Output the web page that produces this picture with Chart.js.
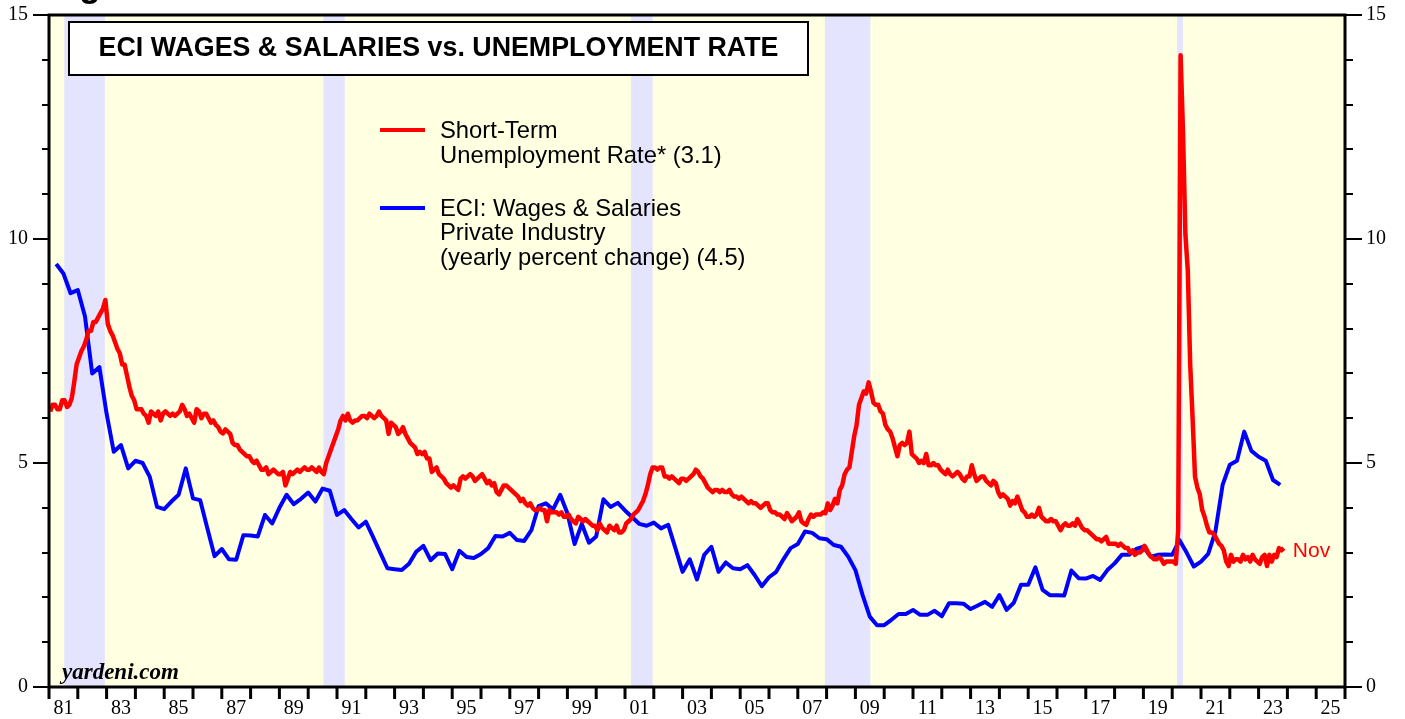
<!DOCTYPE html>
<html>
<head>
<meta charset="utf-8">
<script src="https://cdn.jsdelivr.net/npm/chart.js@4.4.0/dist/chart.umd.min.js"></script>
<style>
  html, body { margin: 0; padding: 0; background: #fff; }
  canvas { display: block; }
</style>
</head>
<body>
<canvas id="grafico" width="1405" height="719"></canvas>
<script>
// short-term unemployment rate, monthly, Jan 1981 .. Nov 2023
const firstYear = 1981;
const shortTermRate = [
  6.15, 6.3, 6.3, 6.2, 6.2, 6.4, 6.4, 6.25, 6.3, 6.45, 6.8, 7.2,      // 1981
  7.35, 7.5, 7.6, 7.75, 7.95, 7.95, 8.15, 8.15, 8.25, 8.35, 8.45, 8.64, // 1982
  8.1, 7.95, 7.85, 7.7, 7.55, 7.45, 7.2, 7.2, 6.95, 6.7, 6.5, 6.4,     // 1983
  6.2, 6.2, 6.2, 6.1, 6.05, 5.9, 6.15, 6.1, 6.05, 6.15, 5.95, 6.1,     // 1984
  6.15, 6.1, 6.05, 6.1, 6.05, 6.1, 6.15, 6.3, 6.2, 6.05, 6.1, 6.0,     // 1985
  5.9, 6.2, 6.15, 6.0, 6.1, 6.1, 6.0, 5.9, 5.95, 5.85, 5.8, 5.7,       // 1986
  5.66, 5.75, 5.7, 5.65, 5.45, 5.4, 5.4, 5.3, 5.25, 5.2, 5.15, 5.15,   // 1987
  5.05, 5.0, 5.05, 4.95, 4.85, 4.85, 4.9, 4.75, 4.8, 4.85, 4.8, 4.75,  // 1988
  4.75, 4.8, 4.5, 4.65, 4.8, 4.75, 4.8, 4.85, 4.8, 4.85, 4.9, 4.85,    // 1989
  4.85, 4.9, 4.85, 4.8, 4.9, 4.8, 4.75, 5.0, 5.15, 5.3, 5.45, 5.6,     // 1990
  5.75, 5.95, 6.05, 5.95, 6.1, 5.95, 5.9, 5.95, 5.95, 6.0, 6.05, 6.05, // 1991
  6.0, 6.1, 6.05, 6.0, 6.05, 6.15, 6.05, 6.0, 5.95, 5.65, 5.9, 5.85,   // 1992
  5.8, 5.65, 5.7, 5.8, 5.65, 5.55, 5.45, 5.4, 5.35, 5.2, 5.25, 5.2,    // 1993
  5.25, 5.1, 5.1, 4.8, 4.85, 4.9, 4.75, 4.7, 4.65, 4.55, 4.5, 4.45,    // 1994
  4.5, 4.45, 4.4, 4.65, 4.7, 4.65, 4.7, 4.75, 4.7, 4.6, 4.65, 4.7,     // 1995
  4.75, 4.65, 4.55, 4.6, 4.5, 4.55, 4.35, 4.3, 4.4, 4.5, 4.5, 4.45,    // 1996
  4.4, 4.35, 4.3, 4.25, 4.15, 4.2, 4.1, 4.05, 4.1, 4.0, 3.95, 3.95,    // 1997
  4.0, 3.95, 3.95, 3.7, 3.95, 3.9, 3.9, 3.9, 3.85, 3.9, 3.8, 3.8,      // 1998
  3.85, 3.75, 3.7, 3.65, 3.8, 3.75, 3.7, 3.75, 3.7, 3.65, 3.6, 3.6,    // 1999
  3.5, 3.65, 3.55, 3.5, 3.45, 3.6, 3.55, 3.5, 3.6, 3.45, 3.45, 3.5,    // 2000
  3.65, 3.7, 3.75, 3.85, 3.9, 3.95, 4.05, 4.15, 4.3, 4.5, 4.75, 4.9,   // 2001
  4.9, 4.85, 4.9, 4.9, 4.7, 4.7, 4.65, 4.7, 4.65, 4.6, 4.55, 4.65,     // 2002
  4.65, 4.6, 4.65, 4.7, 4.75, 4.85, 4.8, 4.7, 4.65, 4.55, 4.45, 4.4,   // 2003
  4.35, 4.4, 4.4, 4.35, 4.4, 4.35, 4.35, 4.4, 4.3, 4.25, 4.25, 4.2,    // 2004
  4.25, 4.2, 4.15, 4.1, 4.15, 4.1, 4.1, 4.05, 4.0, 4.05, 4.1, 4.1,     // 2005
  3.95, 3.9, 3.9, 3.85, 3.85, 3.8, 3.75, 3.88, 3.8, 3.7, 3.75, 3.8,    // 2006
  3.9, 3.7, 3.65, 3.62, 3.75, 3.85, 3.8, 3.85, 3.85, 3.85, 3.9, 3.88,  // 2007
  4.1, 3.95, 4.05, 4.2, 4.1, 4.4, 4.5, 4.75, 4.85, 4.9, 5.25, 5.6,     // 2008
  5.85, 6.3, 6.45, 6.6, 6.55, 6.8, 6.6, 6.35, 6.3, 6.3, 6.15, 6.1,     // 2009
  5.85, 5.75, 5.7, 5.55, 5.35, 5.15, 5.4, 5.45, 5.4, 5.45, 5.7, 5.2,   // 2010
  5.15, 5.1, 5.0, 5.05, 5.0, 5.2, 4.95, 4.95, 5.0, 4.95, 4.95, 4.85,   // 2011
  4.8, 4.75, 4.85, 4.75, 4.7, 4.75, 4.8, 4.75, 4.65, 4.6, 4.7, 4.7,    // 2012
  4.95, 4.75, 4.6, 4.65, 4.7, 4.7, 4.6, 4.55, 4.5, 4.6, 4.55, 4.35,    // 2013
  4.25, 4.3, 4.25, 4.2, 4.05, 4.15, 4.1, 4.25, 4.1, 3.95, 3.9, 3.8,    // 2014
  3.8, 3.85, 3.8, 3.85, 4.0, 3.8, 3.75, 3.7, 3.7, 3.75, 3.7, 3.7,      // 2015
  3.6, 3.5, 3.6, 3.65, 3.6, 3.6, 3.65, 3.6, 3.75, 3.65, 3.55, 3.5,     // 2016
  3.5, 3.45, 3.4, 3.35, 3.3, 3.3, 3.25, 3.3, 3.35, 3.2, 3.2, 3.2,      // 2017
  3.2, 3.15, 3.2, 3.15, 3.1, 3.1, 3.0, 3.05, 2.95, 3.0, 3.0, 3.05,     // 2018
  3.15, 3.05, 2.95, 2.9, 2.85, 2.85, 2.9, 2.85, 2.75, 2.8, 2.8, 2.8,   // 2019
  2.8, 2.75, 3.5, 14.1, 12.4, 10.1, 9.3, 7.2, 6.0, 4.7, 4.45, 4.3,     // 2020
  3.95, 3.8, 3.6, 3.45, 3.45, 3.4, 3.3, 3.2, 3.15, 3.05, 2.8, 2.7,     // 2021
  2.95, 2.8, 2.85, 2.85, 2.8, 2.95, 2.85, 2.9, 2.8, 2.95, 2.85, 2.8,   // 2022
  2.75, 2.9, 2.95, 2.7, 2.95, 2.8, 2.95, 2.9, 3.1, 3.05, 3.1           // 2023
];

// ECI wages & salaries, private industry, yoy %, quarterly, 1981Q1 .. 2023Q3
const eciWages = [
  9.44, 9.23, 8.79, 8.86,  // 1981
  8.27, 7.0, 7.14, 6.1,    // 1982
  5.25, 5.4, 4.88, 5.05,   // 1983
  5.0, 4.69, 4.02, 3.97,   // 1984
  4.14, 4.29, 4.88, 4.21,  // 1985
  4.17, 3.54, 2.92, 3.08,  // 1986
  2.85, 2.84, 3.39, 3.38,  // 1987
  3.36, 3.84, 3.65, 4.0,   // 1988
  4.29, 4.08, 4.2, 4.34,   // 1989
  4.14, 4.43, 4.38, 3.84,  // 1990
  3.95, 3.75, 3.56, 3.69,  // 1991
  3.35, 3.0, 2.65, 2.63,   // 1992
  2.61, 2.75, 3.02, 3.15,  // 1993
  2.83, 2.98, 2.97, 2.63,  // 1994
  3.04, 2.9, 2.88, 2.97,   // 1995
  3.1, 3.37, 3.36, 3.44,   // 1996
  3.28, 3.26, 3.5, 4.04,   // 1997
  4.1, 3.96, 4.29, 3.88,   // 1998
  3.19, 3.64, 3.22, 3.36,  // 1999
  4.19, 4.02, 4.11, 3.94,  // 2000
  3.79, 3.64, 3.6, 3.67,   // 2001
  3.54, 3.62, 3.1, 2.57,   // 2002
  2.85, 2.4, 2.95, 3.13,   // 2003
  2.57, 2.78, 2.65, 2.63,  // 2004
  2.72, 2.5, 2.25, 2.45,   // 2005
  2.57, 2.85, 3.1, 3.19,   // 2006
  3.47, 3.44, 3.32, 3.3,   // 2007
  3.17, 3.13, 2.91, 2.61,  // 2008
  2.05, 1.57, 1.38, 1.38,  // 2009
  1.5, 1.63, 1.63, 1.72,   // 2010
  1.61, 1.61, 1.7, 1.58,   // 2011
  1.87, 1.87, 1.86, 1.74,  // 2012
  1.82, 1.9, 1.79, 2.05,   // 2013
  1.72, 1.88, 2.28, 2.28,  // 2014
  2.67, 2.17, 2.05, 2.05,  // 2015
  2.04, 2.6, 2.43, 2.42,   // 2016
  2.48, 2.39, 2.61, 2.76,  // 2017
  2.95, 2.95, 3.08, 3.13,  // 2018
  2.91, 2.95, 2.96, 2.95,  // 2019
  3.28, 3.0, 2.69, 2.8,    // 2020
  2.97, 3.47, 4.51, 4.96,  // 2021
  5.05, 5.7, 5.27, 5.14,   // 2022
  5.05, 4.62, 4.51         // 2023
];

// recessions (decimal years)
const recessionStart = [1981.53, 1990.53, 2001.21, 2007.94, 2020.17];
const recessionEnd   = [1982.94, 1991.27, 2001.96, 2009.52, 2020.37];

const yAxisTicks = [0, 5, 10, 15];
const lastMonthLabel = 'Nov';

const serif = '"Liberation Serif", "Times New Roman", serif';
const sans = '"Liberation Sans", Arial, sans-serif';

const redPoints = shortTermRate.map((v, i) => ({ x: firstYear + (i + 0.5) / 12, y: v }));
const bluePoints = eciWages.map((v, i) => ({ x: firstYear + (i + 1) / 4, y: v }));

// fundo amarelo + faixas de recessão
const fundo = {
    id: 'fundo',
    beforeDraw(chart) {
        const { ctx, chartArea: a, scales } = chart;
        ctx.save();
        ctx.fillStyle = 'rgb(255,255,226)';
        ctx.fillRect(a.left, a.top, a.right - a.left, a.bottom - a.top);
        ctx.fillStyle = 'rgb(228,228,255)';
        recessionStart.forEach((s, i) => {
            const x0 = scales.x.getPixelForValue(s);
            const x1 = scales.x.getPixelForValue(recessionEnd[i]);
            ctx.fillRect(x0, a.top, x1 - x0, a.bottom - a.top);
        });
        ctx.restore();
    }
};

// moldura, marcas dos eixos, título, legenda
const moldura = {
    id: 'moldura',
    afterDraw(chart) {
        const { ctx, chartArea: a, scales } = chart;
        ctx.save();
        ctx.strokeStyle = '#000';
        ctx.lineWidth = 3;
        ctx.strokeRect(a.left, a.top, a.right - a.left, a.bottom - a.top);

        ctx.lineWidth = 2;
        ctx.beginPath();
        for (let v = 0; v <= 15; v++) {
            const y = Math.round(scales.y.getPixelForValue(v));
            const major = v % 5 === 0;
            ctx.moveTo(a.left - (major ? 16 : 7), y);
            ctx.lineTo(a.left, y);
            ctx.moveTo(a.right, y);
            ctx.lineTo(a.right + (major ? 17 : 8), y);
        }
        ctx.stroke();

        ctx.lineWidth = 3;
        ctx.beginPath();
        for (let yr = 1981; yr <= 2026; yr++) {
            const x = scales.x.getPixelForValue(yr);
            ctx.moveTo(x, a.bottom);
            ctx.lineTo(x, a.bottom + 12);
        }
        ctx.stroke();

        // caixa do título
        ctx.fillStyle = '#fff';
        ctx.fillRect(69, 22, 739, 53);
        ctx.lineWidth = 2;
        ctx.strokeRect(69, 22, 739, 53);
        ctx.fillStyle = '#000';
        ctx.font = 'bold 26.8px ' + sans;
        ctx.textAlign = 'center';
        ctx.textBaseline = 'middle';
        ctx.fillText('ECI WAGES & SALARIES vs. UNEMPLOYMENT RATE', 438.5, 49);

        // legenda
        ctx.lineWidth = 4;
        ctx.strokeStyle = '#ff0000';
        ctx.beginPath(); ctx.moveTo(380, 130); ctx.lineTo(425, 130); ctx.stroke();
        ctx.strokeStyle = '#0000ff';
        ctx.beginPath(); ctx.moveTo(380, 208); ctx.lineTo(425, 208); ctx.stroke();
        ctx.textAlign = 'left';
        ctx.font = '23.8px ' + sans;
        ctx.fillText('Short-Term', 440, 131);
        ctx.fillText('Unemployment Rate* (3.1)', 440, 156);
        ctx.fillText('ECI: Wages & Salaries', 440, 209);
        ctx.fillText('Private Industry', 440, 233);
        ctx.fillText('(yearly percent change) (4.5)', 440, 258);

        // último mês
        const last = redPoints[redPoints.length - 1];
        ctx.fillStyle = '#ff0000';
        ctx.font = '21px ' + sans;
        ctx.fillText(lastMonthLabel, scales.x.getPixelForValue(last.x) + 9, scales.y.getPixelForValue(last.y) + 3);

        // assinatura
        ctx.fillStyle = '#000';
        ctx.font = 'italic bold 23px ' + serif;
        ctx.textBaseline = 'alphabetic';
        ctx.fillText('yardeni.com', 62, 679);

        // texto cortado no topo
        ctx.font = 'bold 36px ' + sans;
        ctx.fillText('g', 79, -4);
        ctx.restore();
    }
};

// marcas invisíveis: só servem para afastar os rótulos do eixo
const yTicks = {
    min: 0, max: 15,
    ticks: {
        stepSize: 1,
        autoSkip: false,
        padding: 0,
        color: '#000',
        font: { family: serif, size: 20 },
        callback: v => yAxisTicks.includes(v) ? String(v) : ''
    },
    grid: { display: true, drawOnChartArea: false, drawTicks: true, tickLength: 21, tickColor: 'rgba(0,0,0,0)' },
    border: { display: false }
};

new Chart(document.getElementById('grafico'), {
    type: 'line',
    data: {
        datasets: [
            {
                label: 'Short-Term Unemployment Rate* (3.1)',
                data: redPoints,
                borderColor: '#ff0000',
                borderWidth: 4.5,
                pointRadius: 0,
                tension: 0,
                borderJoinStyle: 'round',
                yAxisID: 'y'
            },
            {
                label: 'ECI: Wages & Salaries Private Industry (yearly percent change) (4.5)',
                data: bluePoints,
                borderColor: '#0000ff',
                borderWidth: 4,
                pointRadius: 0,
                tension: 0,
                borderJoinStyle: 'round',
                yAxisID: 'y'
            }
        ]
    },
    options: {
        responsive: false,
        animation: false,
        devicePixelRatio: 1,
        layout: { padding: { top: 15, left: 0, right: 0, bottom: 0 } },
        plugins: { legend: { display: false }, tooltip: { enabled: false } },
        scales: {
            x: {
                type: 'linear',
                min: 1981, max: 2026,
                afterFit: s => { s.height = 32; },
                ticks: {
                    stepSize: 1,
                    autoSkip: false,
                    maxRotation: 0,
                    padding: 0,
                    labelOffset: 14.4,
                    color: '#000',
                    font: { family: serif, size: 20 },
                    callback: v => (v % 2 === 1 && v < 2026) ? String(v % 100).padStart(2, '0') : ''
                },
                grid: { display: true, drawOnChartArea: false, drawTicks: true, tickLength: 10, tickColor: 'rgba(0,0,0,0)' },
                border: { display: false }
            },
            y: Object.assign({ position: 'left', afterFit: s => { s.width = 49; } }, yTicks),
            y2: Object.assign({ position: 'right', afterFit: s => { s.width = 60; } }, yTicks)
        }
    },
    plugins: [fundo, moldura]
});
</script>
</body>
</html>
